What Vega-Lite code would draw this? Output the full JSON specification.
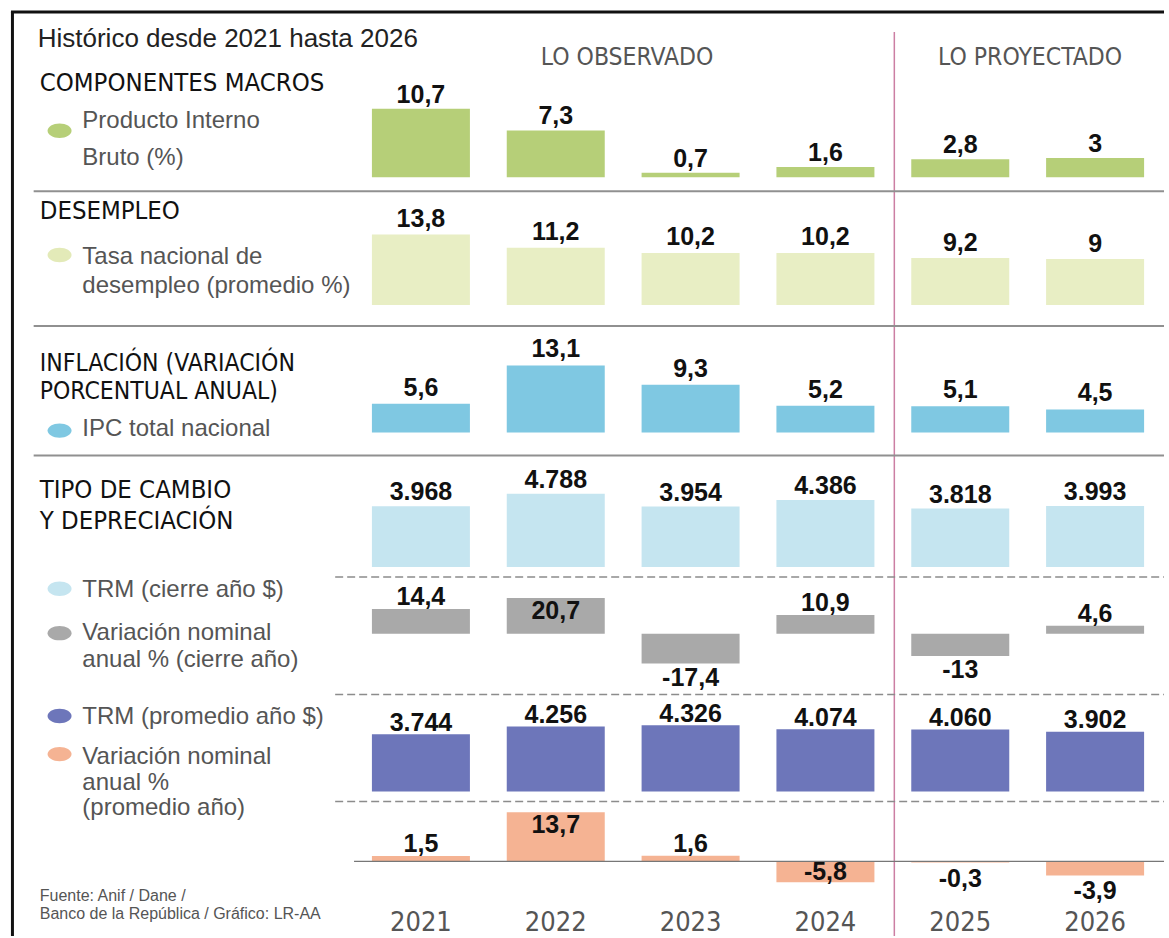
{
  "$schema": "https://vega.github.io/schema/vega-lite/v6.json",
  "width": 1169,
  "height": 938,
  "autosize": {"type": "fit", "contains": "padding"},
  "padding": 0,
  "background": "#ffffff",
  "config": {"view": {"stroke": null}},
  "resolve": {"scale": {"y": "independent"}},
  "datasets": {
    "pib": [
      {"year": 2021, "value": 10.7, "label": "10,7"},
      {"year": 2022, "value": 7.3, "label": "7,3"},
      {"year": 2023, "value": 0.7, "label": "0,7"},
      {"year": 2024, "value": 1.6, "label": "1,6"},
      {"year": 2025, "value": 2.8, "label": "2,8"},
      {"year": 2026, "value": 3, "label": "3"}
    ],
    "des": [
      {"year": 2021, "value": 13.8, "label": "13,8"},
      {"year": 2022, "value": 11.2, "label": "11,2"},
      {"year": 2023, "value": 10.2, "label": "10,2"},
      {"year": 2024, "value": 10.2, "label": "10,2"},
      {"year": 2025, "value": 9.2, "label": "9,2"},
      {"year": 2026, "value": 9, "label": "9"}
    ],
    "inf": [
      {"year": 2021, "value": 5.6, "label": "5,6"},
      {"year": 2022, "value": 13.1, "label": "13,1"},
      {"year": 2023, "value": 9.3, "label": "9,3"},
      {"year": 2024, "value": 5.2, "label": "5,2"},
      {"year": 2025, "value": 5.1, "label": "5,1"},
      {"year": 2026, "value": 4.5, "label": "4,5"}
    ],
    "trmc": [
      {"year": 2021, "value": 3968, "label": "3.968"},
      {"year": 2022, "value": 4788, "label": "4.788"},
      {"year": 2023, "value": 3954, "label": "3.954"},
      {"year": 2024, "value": 4386, "label": "4.386"},
      {"year": 2025, "value": 3818, "label": "3.818"},
      {"year": 2026, "value": 3993, "label": "3.993"}
    ],
    "varc": [
      {"year": 2021, "value": 14.4, "label": "14,4"},
      {"year": 2022, "value": 20.7, "label": "20,7"},
      {"year": 2023, "value": -17.4, "label": "-17,4"},
      {"year": 2024, "value": 10.9, "label": "10,9"},
      {"year": 2025, "value": -13, "label": "-13"},
      {"year": 2026, "value": 4.6, "label": "4,6"}
    ],
    "trmp": [
      {"year": 2021, "value": 3744, "label": "3.744"},
      {"year": 2022, "value": 4256, "label": "4.256"},
      {"year": 2023, "value": 4326, "label": "4.326"},
      {"year": 2024, "value": 4074, "label": "4.074"},
      {"year": 2025, "value": 4060, "label": "4.060"},
      {"year": 2026, "value": 3902, "label": "3.902"}
    ],
    "varp": [
      {"year": 2021, "value": 1.5, "label": "1,5"},
      {"year": 2022, "value": 13.7, "label": "13,7"},
      {"year": 2023, "value": 1.6, "label": "1,6"},
      {"year": 2024, "value": -5.8, "label": "-5,8"},
      {"year": 2025, "value": -0.3, "label": "-0,3"},
      {"year": 2026, "value": -3.9, "label": "-3,9"}
    ]
  },
  "layer": [
    {
      "data": {"name": "pib"},
      "layer": [
        {"mark": {"type": "bar", "orient": "vertical", "size": 98, "color": "#b6cf78"},
         "encoding": {
           "x": {"field": "year", "type": "quantitative", "scale": {"domain": [2017.9154, 2026.511], "nice": false, "zero": false}, "axis": null},
           "y": {"field": "value", "type": "quantitative", "scale": {"domain": [-118.24, 27.636], "nice": false, "zero": false}, "axis": null}}},
        {"mark": {"type": "text", "font": "Liberation Sans, Arial, sans-serif", "fontSize": 25, "fontWeight": "bold", "color": "#111111", "baseline": "alphabetic", "dy": -6},
         "encoding": {
           "x": {"field": "year", "type": "quantitative", "scale": {"domain": [2017.9154, 2026.511], "nice": false, "zero": false}, "axis": null},
           "y": {"field": "value", "type": "quantitative", "scale": {"domain": [-118.24, 27.636], "nice": false, "zero": false}, "axis": null},
           "text": {"field": "label"}}},
        {"data": {"values": [{}]},
         "mark": {"type": "rule", "color": "#111111", "strokeWidth": 3},
         "encoding": {
           "x": {"datum": 2017.9595, "type": "quantitative", "scale": {"domain": [2017.9154, 2026.511], "nice": false, "zero": false}, "axis": null},
           "x2": {"datum": 2026.511},
           "y": {"datum": 25.77, "type": "quantitative", "scale": {"domain": [-118.24, 27.636], "nice": false, "zero": false}, "axis": null}}},
        {"data": {"values": [{}]},
         "mark": {"type": "rule", "color": "#111111", "strokeWidth": 3},
         "encoding": {
           "x": {"datum": 2017.9706, "type": "quantitative", "scale": {"domain": [2017.9154, 2026.511], "nice": false, "zero": false}, "axis": null},
           "y": {"datum": 25.77, "type": "quantitative", "scale": {"domain": [-118.24, 27.636], "nice": false, "zero": false}, "axis": null},
           "y2": {"datum": -118.24}}},
        {"data": {"values": [{}]},
         "mark": {"type": "rule", "color": "#cc7fa3", "strokeWidth": 1.5},
         "encoding": {
           "x": {"datum": 2024.511, "type": "quantitative", "scale": {"domain": [2017.9154, 2026.511], "nice": false, "zero": false}, "axis": null},
           "y": {"datum": 22.659, "type": "quantitative", "scale": {"domain": [-118.24, 27.636], "nice": false, "zero": false}, "axis": null},
           "y2": {"datum": -118.24}}},
        {"data": {"values": [{}]},
         "mark": {"type": "rule", "color": "#909090", "strokeWidth": 2},
         "encoding": {
           "x": {"datum": 2018.128, "type": "quantitative", "scale": {"domain": [2017.9154, 2026.511], "nice": false, "zero": false}, "axis": null},
           "x2": {"datum": 2026.511},
           "y": {"datum": -2.177, "type": "quantitative", "scale": {"domain": [-118.24, 27.636], "nice": false, "zero": false}, "axis": null}}},
        {"data": {"values": [{}]},
         "mark": {"type": "text", "align": "left", "baseline": "alphabetic", "font": "Liberation Sans, Arial, sans-serif", "fontSize": 26, "color": "#222222"},
         "encoding": {
           "x": {"datum": 2018.158, "type": "quantitative", "scale": {"domain": [2017.9154, 2026.511], "nice": false, "zero": false}, "axis": null},
           "y": {"datum": 20.373, "type": "quantitative", "scale": {"domain": [-118.24, 27.636], "nice": false, "zero": false}, "axis": null},
           "text": {"value": "Histórico desde 2021 hasta 2026"}}},
        {"data": {"values": [{}]},
         "mark": {"type": "text", "align": "left", "baseline": "alphabetic", "font": "DejaVu Sans Condensed, sans-serif", "fontSize": 25.5, "color": "#111111"},
         "encoding": {
           "x": {"datum": 2018.173, "type": "quantitative", "scale": {"domain": [2017.9154, 2026.511], "nice": false, "zero": false}, "axis": null},
           "y": {"datum": 13.53, "type": "quantitative", "scale": {"domain": [-118.24, 27.636], "nice": false, "zero": false}, "axis": null},
           "text": {"value": "COMPONENTES MACROS"}}},
        {"data": {"values": [{}]},
         "mark": {"type": "text", "align": "center", "baseline": "alphabetic", "font": "DejaVu Sans Condensed, sans-serif", "fontSize": 24.5, "color": "#555555"},
         "encoding": {
           "x": {"datum": 2022.529, "type": "quantitative", "scale": {"domain": [2017.9154, 2026.511], "nice": false, "zero": false}, "axis": null},
           "y": {"datum": 17.527, "type": "quantitative", "scale": {"domain": [-118.24, 27.636], "nice": false, "zero": false}, "axis": null},
           "text": {"value": "LO OBSERVADO"}}},
        {"data": {"values": [{}]},
         "mark": {"type": "text", "align": "center", "baseline": "alphabetic", "font": "DejaVu Sans Condensed, sans-serif", "fontSize": 24.5, "color": "#555555"},
         "encoding": {
           "x": {"datum": 2025.518, "type": "quantitative", "scale": {"domain": [2017.9154, 2026.511], "nice": false, "zero": false}, "axis": null},
           "y": {"datum": 17.527, "type": "quantitative", "scale": {"domain": [-118.24, 27.636], "nice": false, "zero": false}, "axis": null},
           "text": {"value": "LO PROYECTADO"}}},
        {"data": {"values": [{}]},
         "mark": {"type": "point", "shape": "M-1,0A1,0.6,0,1,1,1,0A1,0.6,0,1,1,-1,0Z", "filled": true, "size": 576, "opacity": 1, "color": "#b6cf78"},
         "encoding": {
           "x": {"datum": 2018.32, "type": "quantitative", "scale": {"domain": [2017.9154, 2026.511], "nice": false, "zero": false}, "axis": null},
           "y": {"datum": 7.263, "type": "quantitative", "scale": {"domain": [-118.24, 27.636], "nice": false, "zero": false}, "axis": null}}},
        {"data": {"values": [{}]},
         "mark": {"type": "text", "align": "left", "baseline": "alphabetic", "font": "Liberation Sans, Arial, sans-serif", "fontSize": 24, "color": "#555555", "lineBreak": "\n", "lineHeight": 36.7},
         "encoding": {
           "x": {"datum": 2018.489, "type": "quantitative", "scale": {"domain": [2017.9154, 2026.511], "nice": false, "zero": false}, "axis": null},
           "y": {"datum": 7.683, "type": "quantitative", "scale": {"domain": [-118.24, 27.636], "nice": false, "zero": false}, "axis": null},
           "text": {"value": "Producto Interno\nBruto (%)"}}}
      ]
    },
    {
      "data": {"name": "des"},
      "layer": [
        {"mark": {"type": "bar", "orient": "vertical", "size": 98, "color": "#e8eec4"},
         "encoding": {
           "x": {"field": "year", "type": "quantitative", "scale": {"domain": [2017.9154, 2026.511], "nice": false, "zero": false}, "axis": null},
           "y": {"field": "value", "type": "quantitative", "scale": {"domain": [-123.496, 59.707], "nice": false, "zero": false}, "axis": null}}},
        {"mark": {"type": "text", "font": "Liberation Sans, Arial, sans-serif", "fontSize": 25, "fontWeight": "bold", "color": "#111111", "baseline": "alphabetic", "dy": -7.5},
         "encoding": {
           "x": {"field": "year", "type": "quantitative", "scale": {"domain": [2017.9154, 2026.511], "nice": false, "zero": false}, "axis": null},
           "y": {"field": "value", "type": "quantitative", "scale": {"domain": [-123.496, 59.707], "nice": false, "zero": false}, "axis": null},
           "text": {"field": "label"}}},
        {"data": {"values": [{}]},
         "mark": {"type": "rule", "color": "#909090", "strokeWidth": 2},
         "encoding": {
           "x": {"datum": 2018.128, "type": "quantitative", "scale": {"domain": [2017.9154, 2026.511], "nice": false, "zero": false}, "axis": null},
           "x2": {"datum": 2026.511},
           "y": {"datum": -4.102, "type": "quantitative", "scale": {"domain": [-123.496, 59.707], "nice": false, "zero": false}, "axis": null}}},
        {"data": {"values": [{}]},
         "mark": {"type": "text", "align": "left", "baseline": "alphabetic", "font": "DejaVu Sans Condensed, sans-serif", "fontSize": 25.5, "color": "#111111"},
         "encoding": {
           "x": {"datum": 2018.173, "type": "quantitative", "scale": {"domain": [2017.9154, 2026.511], "nice": false, "zero": false}, "axis": null},
           "y": {"datum": 16.836, "type": "quantitative", "scale": {"domain": [-123.496, 59.707], "nice": false, "zero": false}, "axis": null},
           "text": {"value": "DESEMPLEO"}}},
        {"data": {"values": [{}]},
         "mark": {"type": "point", "shape": "M-1,0A1,0.6,0,1,1,1,0A1,0.6,0,1,1,-1,0Z", "filled": true, "size": 576, "opacity": 1, "color": "#e3eab8"},
         "encoding": {
           "x": {"datum": 2018.32, "type": "quantitative", "scale": {"domain": [2017.9154, 2026.511], "nice": false, "zero": false}, "axis": null},
           "y": {"datum": 9.805, "type": "quantitative", "scale": {"domain": [-123.496, 59.707], "nice": false, "zero": false}, "axis": null}}},
        {"data": {"values": [{}]},
         "mark": {"type": "text", "align": "left", "baseline": "alphabetic", "font": "Liberation Sans, Arial, sans-serif", "fontSize": 24, "color": "#555555", "lineBreak": "\n", "lineHeight": 28.3},
         "encoding": {
           "x": {"datum": 2018.489, "type": "quantitative", "scale": {"domain": [2017.9154, 2026.511], "nice": false, "zero": false}, "axis": null},
           "y": {"datum": 7.949, "type": "quantitative", "scale": {"domain": [-123.496, 59.707], "nice": false, "zero": false}, "axis": null},
           "text": {"value": "Tasa nacional de\ndesempleo (promedio %)"}}}
      ]
    },
    {
      "data": {"name": "inf"},
      "layer": [
        {"mark": {"type": "bar", "orient": "vertical", "size": 98, "color": "#7fc8e2"},
         "encoding": {
           "x": {"field": "year", "type": "quantitative", "scale": {"domain": [2017.9154, 2026.511], "nice": false, "zero": false}, "axis": null},
           "y": {"field": "value", "type": "quantitative", "scale": {"domain": [-98.574, 84.629], "nice": false, "zero": false}, "axis": null}}},
        {"mark": {"type": "text", "font": "Liberation Sans, Arial, sans-serif", "fontSize": 25, "fontWeight": "bold", "color": "#111111", "baseline": "alphabetic", "dy": -8},
         "encoding": {
           "x": {"field": "year", "type": "quantitative", "scale": {"domain": [2017.9154, 2026.511], "nice": false, "zero": false}, "axis": null},
           "y": {"field": "value", "type": "quantitative", "scale": {"domain": [-98.574, 84.629], "nice": false, "zero": false}, "axis": null},
           "text": {"field": "label"}}},
        {"data": {"values": [{}]},
         "mark": {"type": "rule", "color": "#909090", "strokeWidth": 2},
         "encoding": {
           "x": {"datum": 2018.128, "type": "quantitative", "scale": {"domain": [2017.9154, 2026.511], "nice": false, "zero": false}, "axis": null},
           "x2": {"datum": 2026.511},
           "y": {"datum": -4.531, "type": "quantitative", "scale": {"domain": [-98.574, 84.629], "nice": false, "zero": false}, "axis": null}}},
        {"data": {"values": [{}]},
         "mark": {"type": "text", "align": "left", "baseline": "alphabetic", "font": "DejaVu Sans Condensed, sans-serif", "fontSize": 24.5, "color": "#111111", "lineBreak": "\n", "lineHeight": 28},
         "encoding": {
           "x": {"datum": 2018.173, "type": "quantitative", "scale": {"domain": [2017.9154, 2026.511], "nice": false, "zero": false}, "axis": null},
           "y": {"datum": 12.07, "type": "quantitative", "scale": {"domain": [-98.574, 84.629], "nice": false, "zero": false}, "axis": null},
           "text": {"value": "INFLACIÓN (VARIACIÓN\nPORCENTUAL ANUAL)"}}},
        {"data": {"values": [{}]},
         "mark": {"type": "point", "shape": "M-1,0A1,0.6,0,1,1,1,0A1,0.6,0,1,1,-1,0Z", "filled": true, "size": 576, "opacity": 1, "color": "#7fc8e2"},
         "encoding": {
           "x": {"datum": 2018.32, "type": "quantitative", "scale": {"domain": [2017.9154, 2026.511], "nice": false, "zero": false}, "axis": null},
           "y": {"datum": 0.352, "type": "quantitative", "scale": {"domain": [-98.574, 84.629], "nice": false, "zero": false}, "axis": null}}},
        {"data": {"values": [{}]},
         "mark": {"type": "text", "align": "left", "baseline": "alphabetic", "font": "Liberation Sans, Arial, sans-serif", "fontSize": 24, "color": "#555555"},
         "encoding": {
           "x": {"datum": 2018.489, "type": "quantitative", "scale": {"domain": [2017.9154, 2026.511], "nice": false, "zero": false}, "axis": null},
           "y": {"datum": -0.781, "type": "quantitative", "scale": {"domain": [-98.574, 84.629], "nice": false, "zero": false}, "axis": null},
           "text": {"value": "IPC total nacional"}}}
      ]
    },
    {
      "data": {"name": "trmc"},
      "layer": [
        {"mark": {"type": "bar", "orient": "vertical", "size": 98, "color": "#c5e5f0"},
         "encoding": {
           "x": {"field": "year", "type": "quantitative", "scale": {"domain": [2017.9154, 2026.511], "nice": false, "zero": false}, "axis": null},
           "y": {"field": "value", "type": "quantitative", "scale": {"domain": [-24084.7, 37022.8], "nice": false, "zero": false}, "axis": null}}},
        {"mark": {"type": "text", "font": "Liberation Sans, Arial, sans-serif", "fontSize": 25, "fontWeight": "bold", "color": "#111111", "baseline": "alphabetic", "dy": -6},
         "encoding": {
           "x": {"field": "year", "type": "quantitative", "scale": {"domain": [2017.9154, 2026.511], "nice": false, "zero": false}, "axis": null},
           "y": {"field": "value", "type": "quantitative", "scale": {"domain": [-24084.7, 37022.8], "nice": false, "zero": false}, "axis": null},
           "text": {"field": "label"}}},
        {"data": {"values": [{}]},
         "mark": {"type": "rule", "color": "#8c8c8c", "strokeWidth": 1.5, "strokeDash": [8, 4]},
         "encoding": {
           "x": {"datum": 2020.364, "type": "quantitative", "scale": {"domain": [2017.9154, 2026.511], "nice": false, "zero": false}, "axis": null},
           "x2": {"datum": 2026.511},
           "y": {"datum": -651.5, "type": "quantitative", "scale": {"domain": [-24084.7, 37022.8], "nice": false, "zero": false}, "axis": null}}},
        {"data": {"values": [{}]},
         "mark": {"type": "text", "align": "left", "baseline": "alphabetic", "font": "DejaVu Sans Condensed, sans-serif", "fontSize": 25.5, "color": "#111111", "lineBreak": "\n", "lineHeight": 30.7},
         "encoding": {
           "x": {"datum": 2018.173, "type": "quantitative", "scale": {"domain": [2017.9154, 2026.511], "nice": false, "zero": false}, "axis": null},
           "y": {"datum": 4495.1, "type": "quantitative", "scale": {"domain": [-24084.7, 37022.8], "nice": false, "zero": false}, "axis": null},
           "text": {"value": "TIPO DE CAMBIO\nY DEPRECIACIÓN"}}}
      ]
    },
    {
      "data": {"name": "varc"},
      "layer": [
        {"mark": {"type": "bar", "orient": "vertical", "size": 98, "color": "#a9a9a9"},
         "encoding": {
           "x": {"field": "year", "type": "quantitative", "scale": {"domain": [2017.9154, 2026.511], "nice": false, "zero": false}, "axis": null},
           "y": {"field": "value", "type": "quantitative", "scale": {"domain": [-176.163, 369.186], "nice": false, "zero": false}, "axis": null}}},
        {"transform": [{"filter": "datum.value > 0 && datum.value < 18"}],
         "mark": {"type": "text", "font": "Liberation Sans, Arial, sans-serif", "fontSize": 25, "fontWeight": "bold", "color": "#111111", "baseline": "alphabetic", "dy": -3.5},
         "encoding": {
           "x": {"field": "year", "type": "quantitative", "scale": {"domain": [2017.9154, 2026.511], "nice": false, "zero": false}, "axis": null},
           "y": {"field": "value", "type": "quantitative", "scale": {"domain": [-176.163, 369.186], "nice": false, "zero": false}, "axis": null},
           "text": {"field": "label"}}},
        {"transform": [{"filter": "datum.value >= 18"}],
         "mark": {"type": "text", "font": "Liberation Sans, Arial, sans-serif", "fontSize": 25, "fontWeight": "bold", "color": "#111111", "baseline": "top", "dy": 1},
         "encoding": {
           "x": {"field": "year", "type": "quantitative", "scale": {"domain": [2017.9154, 2026.511], "nice": false, "zero": false}, "axis": null},
           "y": {"field": "value", "type": "quantitative", "scale": {"domain": [-176.163, 369.186], "nice": false, "zero": false}, "axis": null},
           "text": {"field": "label"}}},
        {"transform": [{"filter": "datum.value < 0"}],
         "mark": {"type": "text", "font": "Liberation Sans, Arial, sans-serif", "fontSize": 25, "fontWeight": "bold", "color": "#111111", "baseline": "top", "dy": 2},
         "encoding": {
           "x": {"field": "year", "type": "quantitative", "scale": {"domain": [2017.9154, 2026.511], "nice": false, "zero": false}, "axis": null},
           "y": {"field": "value", "type": "quantitative", "scale": {"domain": [-176.163, 369.186], "nice": false, "zero": false}, "axis": null},
           "text": {"field": "label"}}},
        {"data": {"values": [{}]},
         "mark": {"type": "rule", "color": "#8c8c8c", "strokeWidth": 1.5, "strokeDash": [8, 4]},
         "encoding": {
           "x": {"datum": 2020.364, "type": "quantitative", "scale": {"domain": [2017.9154, 2026.511], "nice": false, "zero": false}, "axis": null},
           "x2": {"datum": 2026.511},
           "y": {"datum": -35.465, "type": "quantitative", "scale": {"domain": [-176.163, 369.186], "nice": false, "zero": false}, "axis": null}}},
        {"data": {"values": [{}]},
         "mark": {"type": "point", "shape": "M-1,0A1,0.6,0,1,1,1,0A1,0.6,0,1,1,-1,0Z", "filled": true, "size": 576, "opacity": 1, "color": "#c5e5f0"},
         "encoding": {
           "x": {"datum": 2018.32, "type": "quantitative", "scale": {"domain": [2017.9154, 2026.511], "nice": false, "zero": false}, "axis": null},
           "y": {"datum": 26.163, "type": "quantitative", "scale": {"domain": [-176.163, 369.186], "nice": false, "zero": false}, "axis": null}}},
        {"data": {"values": [{}]},
         "mark": {"type": "text", "align": "left", "baseline": "alphabetic", "font": "Liberation Sans, Arial, sans-serif", "fontSize": 24, "color": "#555555"},
         "encoding": {
           "x": {"datum": 2018.489, "type": "quantitative", "scale": {"domain": [2017.9154, 2026.511], "nice": false, "zero": false}, "axis": null},
           "y": {"datum": 21.337, "type": "quantitative", "scale": {"domain": [-176.163, 369.186], "nice": false, "zero": false}, "axis": null},
           "text": {"value": "TRM (cierre año $)"}}},
        {"data": {"values": [{}]},
         "mark": {"type": "point", "shape": "M-1,0A1,0.6,0,1,1,1,0A1,0.6,0,1,1,-1,0Z", "filled": true, "size": 576, "opacity": 1, "color": "#a9a9a9"},
         "encoding": {
           "x": {"datum": 2018.32, "type": "quantitative", "scale": {"domain": [2017.9154, 2026.511], "nice": false, "zero": false}, "axis": null},
           "y": {"datum": 0.291, "type": "quantitative", "scale": {"domain": [-176.163, 369.186], "nice": false, "zero": false}, "axis": null}}},
        {"data": {"values": [{}]},
         "mark": {"type": "text", "align": "left", "baseline": "alphabetic", "font": "Liberation Sans, Arial, sans-serif", "fontSize": 24, "color": "#555555", "lineBreak": "\n", "lineHeight": 26.7},
         "encoding": {
           "x": {"datum": 2018.489, "type": "quantitative", "scale": {"domain": [2017.9154, 2026.511], "nice": false, "zero": false}, "axis": null},
           "y": {"datum": -3.895, "type": "quantitative", "scale": {"domain": [-176.163, 369.186], "nice": false, "zero": false}, "axis": null},
           "text": {"value": "Variación nominal\nanual % (cierre año)"}}}
      ]
    },
    {
      "data": {"name": "trmp"},
      "layer": [
        {"mark": {"type": "bar", "orient": "vertical", "size": 98, "color": "#6d76ba"},
         "encoding": {
           "x": {"field": "year", "type": "quantitative", "scale": {"domain": [2017.9154, 2026.511], "nice": false, "zero": false}, "axis": null},
           "y": {"field": "value", "type": "quantitative", "scale": {"domain": [-9426.7, 51680.8], "nice": false, "zero": false}, "axis": null}}},
        {"mark": {"type": "text", "font": "Liberation Sans, Arial, sans-serif", "fontSize": 25, "fontWeight": "bold", "color": "#111111", "baseline": "alphabetic", "dy": -3.5},
         "encoding": {
           "x": {"field": "year", "type": "quantitative", "scale": {"domain": [2017.9154, 2026.511], "nice": false, "zero": false}, "axis": null},
           "y": {"field": "value", "type": "quantitative", "scale": {"domain": [-9426.7, 51680.8], "nice": false, "zero": false}, "axis": null},
           "text": {"field": "label"}}},
        {"data": {"values": [{}]},
         "mark": {"type": "rule", "color": "#8c8c8c", "strokeWidth": 1.5, "strokeDash": [8, 4]},
         "encoding": {
           "x": {"datum": 2020.364, "type": "quantitative", "scale": {"domain": [2017.9154, 2026.511], "nice": false, "zero": false}, "axis": null},
           "x2": {"datum": 2026.511},
           "y": {"datum": -651.5, "type": "quantitative", "scale": {"domain": [-9426.7, 51680.8], "nice": false, "zero": false}, "axis": null}}},
        {"data": {"values": [{}]},
         "mark": {"type": "point", "shape": "M-1,0A1,0.6,0,1,1,1,0A1,0.6,0,1,1,-1,0Z", "filled": true, "size": 576, "opacity": 1, "color": "#6d76ba"},
         "encoding": {
           "x": {"datum": 2018.32, "type": "quantitative", "scale": {"domain": [2017.9154, 2026.511], "nice": false, "zero": false}, "axis": null},
           "y": {"datum": 4938.1, "type": "quantitative", "scale": {"domain": [-9426.7, 51680.8], "nice": false, "zero": false}, "axis": null}}},
        {"data": {"values": [{}]},
         "mark": {"type": "text", "align": "left", "baseline": "alphabetic", "font": "Liberation Sans, Arial, sans-serif", "fontSize": 24, "color": "#555555"},
         "encoding": {
           "x": {"datum": 2018.489, "type": "quantitative", "scale": {"domain": [2017.9154, 2026.511], "nice": false, "zero": false}, "axis": null},
           "y": {"datum": 4384.4, "type": "quantitative", "scale": {"domain": [-9426.7, 51680.8], "nice": false, "zero": false}, "axis": null},
           "text": {"value": "TRM (promedio año $)"}}}
      ]
    },
    {
      "data": {"name": "varp"},
      "layer": [
        {"mark": {"type": "bar", "orient": "vertical", "size": 98, "color": "#f5b393"},
         "encoding": {
           "x": {"field": "year", "type": "quantitative", "scale": {"domain": [2017.9154, 2026.511], "nice": false, "zero": false}, "axis": null},
           "y": {"field": "value", "type": "quantitative", "scale": {"domain": [-20.75, 239.806], "nice": false, "zero": false}, "axis": null}}},
        {"transform": [{"filter": "datum.value > 0 && datum.value < 10"}],
         "mark": {"type": "text", "font": "Liberation Sans, Arial, sans-serif", "fontSize": 25, "fontWeight": "bold", "color": "#111111", "baseline": "alphabetic", "dy": -4},
         "encoding": {
           "x": {"field": "year", "type": "quantitative", "scale": {"domain": [2017.9154, 2026.511], "nice": false, "zero": false}, "axis": null},
           "y": {"field": "value", "type": "quantitative", "scale": {"domain": [-20.75, 239.806], "nice": false, "zero": false}, "axis": null},
           "text": {"field": "label"}}},
        {"transform": [{"filter": "datum.value >= 10"}],
         "mark": {"type": "text", "font": "Liberation Sans, Arial, sans-serif", "fontSize": 25, "fontWeight": "bold", "color": "#111111", "baseline": "top", "dy": 1},
         "encoding": {
           "x": {"field": "year", "type": "quantitative", "scale": {"domain": [2017.9154, 2026.511], "nice": false, "zero": false}, "axis": null},
           "y": {"field": "value", "type": "quantitative", "scale": {"domain": [-20.75, 239.806], "nice": false, "zero": false}, "axis": null},
           "text": {"field": "label"}}},
        {"transform": [{"filter": "datum.value < -5"}],
         "mark": {"type": "text", "font": "Liberation Sans, Arial, sans-serif", "fontSize": 25, "fontWeight": "bold", "color": "#111111", "baseline": "alphabetic", "dy": -2},
         "encoding": {
           "x": {"field": "year", "type": "quantitative", "scale": {"domain": [2017.9154, 2026.511], "nice": false, "zero": false}, "axis": null},
           "y": {"field": "value", "type": "quantitative", "scale": {"domain": [-20.75, 239.806], "nice": false, "zero": false}, "axis": null},
           "text": {"field": "label"}}},
        {"transform": [{"filter": "datum.value < 0 && datum.value >= -5"}],
         "mark": {"type": "text", "font": "Liberation Sans, Arial, sans-serif", "fontSize": 25, "fontWeight": "bold", "color": "#111111", "baseline": "top", "dy": 4},
         "encoding": {
           "x": {"field": "year", "type": "quantitative", "scale": {"domain": [2017.9154, 2026.511], "nice": false, "zero": false}, "axis": null},
           "y": {"field": "value", "type": "quantitative", "scale": {"domain": [-20.75, 239.806], "nice": false, "zero": false}, "axis": null},
           "text": {"field": "label"}}},
        {"mark": {"type": "text", "font": "DejaVu Sans Condensed, sans-serif", "fontSize": 27, "color": "#555555", "baseline": "alphabetic"},
         "encoding": {
           "x": {"field": "year", "type": "quantitative", "scale": {"domain": [2017.9154, 2026.511], "nice": false, "zero": false}, "axis": null},
           "y": {"datum": -19.278, "type": "quantitative", "scale": {"domain": [-20.75, 239.806], "nice": false, "zero": false}, "axis": null},
           "text": {"field": "year", "type": "quantitative", "format": "d"}}},
        {"data": {"values": [{}]},
         "mark": {"type": "rule", "color": "#777777", "strokeWidth": 1.2},
         "encoding": {
           "x": {"datum": 2020.504, "type": "quantitative", "scale": {"domain": [2017.9154, 2026.511], "nice": false, "zero": false}, "axis": null},
           "x2": {"datum": 2026.511},
           "y": {"datum": 0, "type": "quantitative", "scale": {"domain": [-20.75, 239.806], "nice": false, "zero": false}, "axis": null}}},
        {"data": {"values": [{}]},
         "mark": {"type": "point", "shape": "M-1,0A1,0.6,0,1,1,1,0A1,0.6,0,1,1,-1,0Z", "filled": true, "size": 576, "opacity": 1, "color": "#f5b393"},
         "encoding": {
           "x": {"datum": 2018.32, "type": "quantitative", "scale": {"domain": [2017.9154, 2026.511], "nice": false, "zero": false}, "axis": null},
           "y": {"datum": 29.889, "type": "quantitative", "scale": {"domain": [-20.75, 239.806], "nice": false, "zero": false}, "axis": null}}},
        {"data": {"values": [{}]},
         "mark": {"type": "text", "align": "left", "baseline": "alphabetic", "font": "Liberation Sans, Arial, sans-serif", "fontSize": 24, "color": "#555555", "lineBreak": "\n", "lineHeight": 25.3},
         "encoding": {
           "x": {"datum": 2018.489, "type": "quantitative", "scale": {"domain": [2017.9154, 2026.511], "nice": false, "zero": false}, "axis": null},
           "y": {"datum": 27.028, "type": "quantitative", "scale": {"domain": [-20.75, 239.806], "nice": false, "zero": false}, "axis": null},
           "text": {"value": "Variación nominal\nanual %\n(promedio año)"}}},
        {"data": {"values": [{}]},
         "mark": {"type": "text", "align": "left", "baseline": "alphabetic", "font": "Liberation Sans, Arial, sans-serif", "fontSize": 16, "color": "#555555", "lineBreak": "\n", "lineHeight": 18},
         "encoding": {
           "x": {"datum": 2018.173, "type": "quantitative", "scale": {"domain": [2017.9154, 2026.511], "nice": false, "zero": false}, "axis": null},
           "y": {"datum": -10.944, "type": "quantitative", "scale": {"domain": [-20.75, 239.806], "nice": false, "zero": false}, "axis": null},
           "text": {"value": "Fuente: Anif / Dane /\nBanco de la República / Gráfico: LR-AA"}}}
      ]
    }
  ]
}
